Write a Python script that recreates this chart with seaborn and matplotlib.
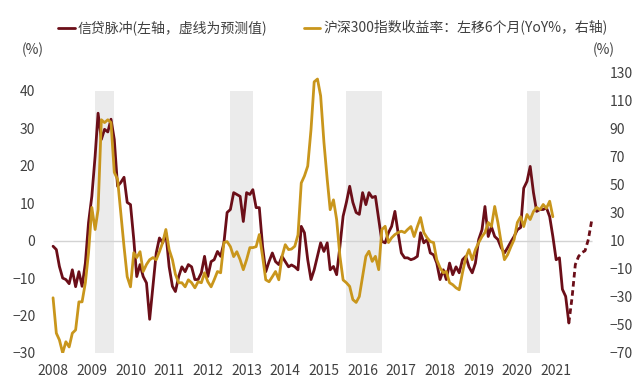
import matplotlib
matplotlib.use('Agg')
import matplotlib.pyplot as plt
import matplotlib.dates as mdates
import seaborn as sns
import pandas as pd

# 信贷脉冲 (左轴, %), 2008-01 起逐月
credit_impulse = [
    -1.5, -2.4, -6.9, -10.0, -10.4, -11.5, -7.8, -12.3, -8.3, -12.2, -6.0, 4.8,
    11.8, 22.5, 34.0, 27.0, 29.7, 29.0, 32.4, 27.0, 14.5, 15.5, 16.9, 10.2,
    9.6, 0.3, -9.6, -6.4, -9.6, -11.3, -21.0, -12.2, -3.3, 0.7, -0.6, 2.0,
    -7.0, -12.2, -13.6, -9.6, -7.0, -8.3, -6.4, -7.0, -10.4, -10.4, -8.6, -4.2,
    -9.6, -5.6, -5.1, -2.9, -4.2, -0.6, 7.5, 8.3, 12.8, 12.3, 11.8, 5.1,
    12.8, 12.3, 13.6, 8.8, 8.8, -1.6, -8.3, -5.6, -3.3, -5.6, -6.4, -4.2,
    -5.6, -7.0, -6.5, -7.0, -7.8, 3.8, 2.1, -5.1, -10.4, -7.8, -4.2, -0.6,
    -2.9, -0.6, -7.8, -6.9, -9.1, -1.5, 6.5, 10.2, 14.5, 10.2, 7.5, 7.0,
    12.8, 9.6, 12.8, 11.5, 11.8, 5.6, -0.2, -0.6, 2.1, 3.8, 7.8, 2.1,
    -3.3, -4.6, -4.6, -5.1, -4.8, -4.2, 2.1, -0.6, 0.3, -3.3, -3.8, -6.0,
    -10.4, -7.8, -10.4, -6.0, -9.1, -7.0, -8.6, -5.1, -4.2, -7.0, -8.6, -6.0,
    0.3, 2.9, 9.1, 1.1, 3.7, 1.1, 0.3, -1.9, -3.3, -1.9, -0.3, 1.1,
    2.9, 3.5, 14.0, 15.8, 19.8, 12.8, 7.8, 8.3, 8.3, 8.8, 6.4, 1.1,
    -5.1, -4.6, -13.0, -14.9, -22.0,
]
# 预测值 (虚线), 2021-05 起
credit_forecast = [-22.0, -15.0, -6.4, -4.2, -3.2, -2.7, 0.3, 5.1]

# 沪深300指数收益率: 左移6个月 (YoY%, 右轴), 2008-01 起
hs300_yoy = [
    -30.7, -55.9, -60.7, -70.0, -62.0, -65.7, -55.9, -53.6, -33.6, -33.6, -20.0, 1.4,
    33.6, 17.9, 32.0, 96.0, 94.0, 96.0, 94.0, 58.6, 53.6, 30.0, 5.7, -15.7,
    -22.9, 1.4, -2.1, 2.1, -12.0, -7.0, -3.6, -2.1, -3.6, 2.1, 8.6, 17.9,
    3.6, -3.6, -14.0, -20.0, -20.0, -22.9, -17.9, -20.0, -23.6, -19.3, -20.0, -12.9,
    -19.3, -22.9, -17.9, -12.0, -12.9, 8.6, 9.3, 5.7, -1.4, 2.1, -3.6, -10.7,
    -3.6, 5.0, 5.0, 5.7, 14.3, -1.4, -17.9, -19.3, -15.7, -12.0, -17.9, -1.4,
    7.1, 3.6, 4.0, 6.0, 14.0, 51.0, 56.0, 63.0, 89.0, 123.0, 125.0, 113.0,
    80.0, 53.6, 32.0, 39.0, 25.0, -1.2, -18.0, -20.0, -22.6, -32.0, -34.0, -29.8,
    -15.5, -1.2, 2.4, -4.8, -1.2, -10.7, 17.9, 20.2, 8.6, 12.0, 14.3, 15.7,
    16.7, 15.7, 17.9, 20.0, 12.9, 20.0, 26.4, 15.7, 12.0, 9.3, 8.6, -3.6,
    -9.3, -12.9, -12.0, -20.0, -21.4, -23.6, -25.0, -12.9, -2.1, 3.6, -3.6, 3.6,
    8.6, 12.9, 15.7, 22.9, 20.0, 34.3, 22.9, 8.6, -3.6, 0.0, 5.7, 10.7,
    22.9, 27.0, 20.0, 28.6, 25.0, 30.7, 33.6, 32.0, 35.7, 33.0, 38.0, 27.0,
]

years = list(range(2008, 2022))

# 阴影区间
shade_periods = [
    ('2009-02-01', '2009-08-01'),
    ('2012-08-01', '2013-03-01'),
    ('2015-08-01', '2016-07-01'),
    ('2020-04-01', '2020-08-01'),
]

label_credit = '信贷脉冲(左轴，虚线为预测值)'
label_hs300 = '沪深300指数收益率：左移6个月(YoY%，右轴)'

sns.set_style('white')
plt.rcParams['font.family'] = ['Noto Sans CJK SC', 'DejaVu Sans']

red = '#6B0E18'
gold = '#C9961C'
txt = '#404040'

df_credit = pd.DataFrame({'date': pd.date_range('2008-01-01', periods=len(credit_impulse), freq='MS'),
                          'value': credit_impulse})
df_fc = pd.DataFrame({'date': pd.date_range(df_credit['date'].iloc[-1], periods=len(credit_forecast), freq='MS'),
                      'value': credit_forecast})
df_hs = pd.DataFrame({'date': pd.date_range('2008-01-01', periods=len(hs300_yoy), freq='MS'),
                      'value': hs300_yoy})

fig = plt.figure(figsize=(6.4, 3.83), dpi=100)
ax = fig.add_axes([45 / 640, 1 - 353 / 383, 555 / 640, 281 / 383])
ax2 = ax.twinx()

ax.set_ylim(-30, 45)
ax2.set_ylim(-70, 130)

for s, e in shade_periods:
    ax.axvspan(pd.Timestamp(s), pd.Timestamp(e), ymin=0, ymax=70 / 75, color='#EBEBEB', lw=0, zorder=0)
ax.hlines(0, df_credit['date'].iloc[0], df_fc['date'].iloc[-1], color='#D3D3D3', lw=1, zorder=1)

sns.lineplot(data=df_credit, x='date', y='value', color=red, lw=2, ax=ax, label=label_credit, zorder=3)
sns.lineplot(data=df_fc, x='date', y='value', color=red, lw=2, ax=ax, zorder=3,
             linestyle=(0, (2, 1.3)))
sns.lineplot(data=df_hs, x='date', y='value', color=gold, lw=2, ax=ax2, label=label_hs300, zorder=3)

h1, l1 = ax.get_legend_handles_labels()
h2, l2 = ax2.get_legend_handles_labels()
ax.get_legend().remove()
ax2.get_legend().remove()
fig.legend(h1 + h2, l1 + l2, loc='center', bbox_to_anchor=(0.52, 1 - 28 / 383), ncol=2, frameon=False,
           fontsize=10, handlelength=1.2, handletextpad=0.2, columnspacing=2.6, labelcolor=txt)

ax.set_xlim(pd.Timestamp('2007-10-17'), pd.Timestamp('2022-02-19'))
ax.set_xticks([pd.Timestamp(f'{y}-01-01') for y in years])
ax.xaxis.set_major_formatter(mdates.DateFormatter('%Y'))
ax.set_yticks(range(-30, 41, 10))
ax2.set_yticks(range(-70, 131, 20))

for a in (ax, ax2):
    a.set_xlabel('')
    a.set_ylabel('')
    for sp in a.spines.values():
        sp.set_visible(False)
    a.tick_params(length=0, labelsize=10, colors=txt)
ax.tick_params(axis='y', pad=7)
ax.tick_params(axis='x', pad=8)
ax2.tick_params(axis='y', pad=7)

fig.text(33 / 640, 1 - 50 / 383, '(%)', ha='center', va='center', fontsize=10, color=txt)
fig.text(604 / 640, 1 - 50 / 383, '(%)', ha='center', va='center', fontsize=10, color=txt)

fig.savefig('out.png', dpi=100)
